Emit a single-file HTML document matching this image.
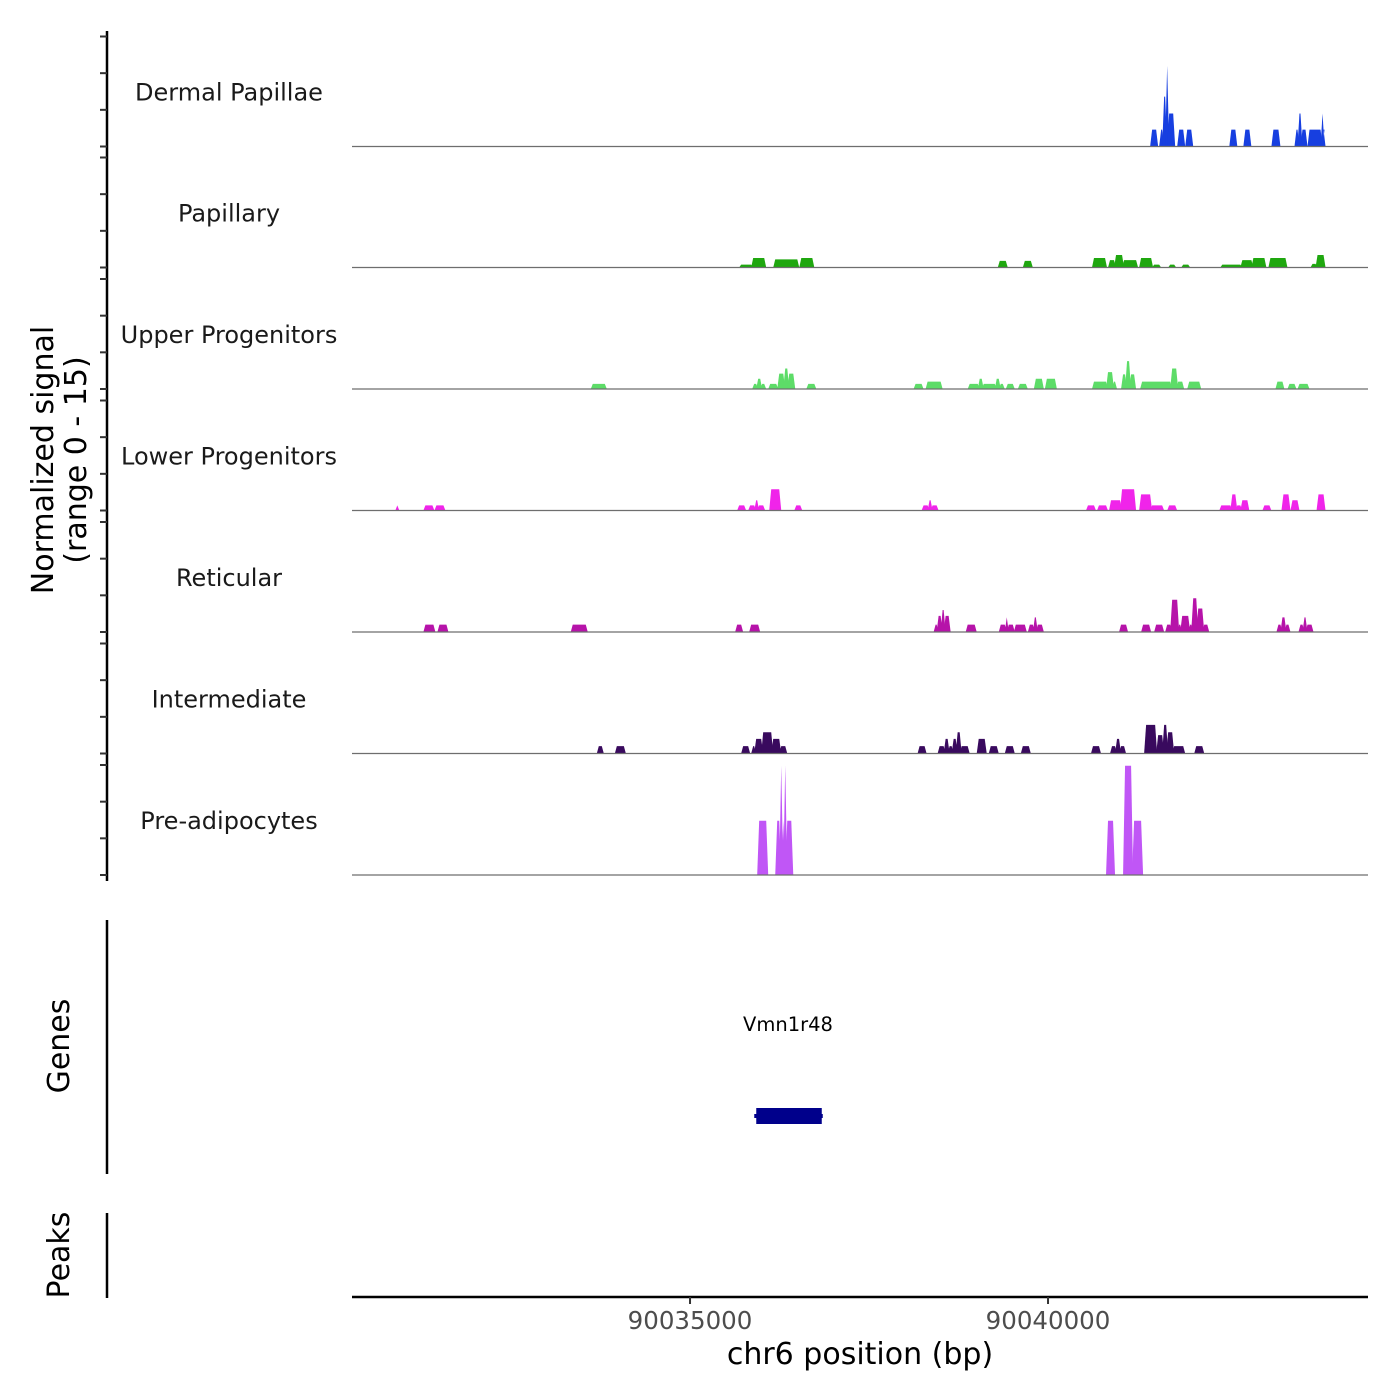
<!DOCTYPE html>
<html><head><meta charset="utf-8"><style>
html,body{margin:0;padding:0;background:#fff;}
svg{display:block;font-family:"DejaVu Sans","Liberation Sans",sans-serif;}
</style></head><body>
<svg id="chart" width="1400" height="1400" viewBox="0 0 1400 1400" xmlns="http://www.w3.org/2000/svg">
<rect width="1400" height="1400" fill="#fff"/>
<g id="tracks"></g>
<g id="yaxis"></g>
<text transform="translate(53,460) rotate(-90)" text-anchor="middle" font-size="30" fill="#000">Normalized signal</text>
<text transform="translate(86,460) rotate(-90)" text-anchor="middle" font-size="30" fill="#000">(range 0 - 15)</text>
<line x1="107" y1="920" x2="107" y2="1174" stroke="#000" stroke-width="2.5"/>
<text transform="translate(69,1046) rotate(-90)" text-anchor="middle" font-size="30" fill="#000">Genes</text>
<text x="788" y="1031" text-anchor="middle" font-size="19.5" fill="#000">Vmn1r48</text>
<g id="genes"></g>
<line x1="107" y1="1213" x2="107" y2="1298" stroke="#000" stroke-width="2.5"/>
<text transform="translate(69,1255) rotate(-90)" text-anchor="middle" font-size="30" fill="#000">Peaks</text>
<line x1="352" y1="1297" x2="1368" y2="1297" stroke="#000" stroke-width="2.5"/>
<g id="xaxis"></g>
<text x="860" y="1364" text-anchor="middle" font-size="30" fill="#000">chr6 position (bp)</text>
</svg>
<script>
// region and axis
const regionStart = 90030279;
const regionEnd = 90044469;
const xTicks = [90035000, 90040000];
const trackNames = ["Dermal Papillae","Papillary","Upper Progenitors","Lower Progenitors","Reticular","Intermediate","Pre-adipocytes"];
const trackColors = ["#173fe0","#1fa70f","#5ddc68","#f024ea","#b613a9","#390a5e","#c056f6"];
// coverage segments: [start bp, end bp, normalized signal]
const dermalPapillae = [[90041440,90041524,2.3],[90041566,90041608,2.3],[90041608,90041650,6.8],[90041650,90041678,11],[90041678,90041762,4.5],[90041818,90041902,2.3],[90041930,90042014,2.3],[90042546,90042630,2.3],[90042742,90042826,2.3],[90043134,90043232,2.3],[90043456,90043498,2.3],[90043498,90043540,4.5],[90043540,90043610,2.3],[90043638,90043820,2.3],[90043820,90043848,4.5],[90043848,90043862,2.3]];
const papillary = [[90035700,90035868,0.4],[90035868,90036050,1.3],[90036176,90036512,1.1],[90036540,90036722,1.3],[90039312,90039424,0.9],[90039662,90039774,0.9],[90040628,90040810,1.3],[90040852,90040936,1.0],[90040936,90041048,1.7],[90041048,90041244,1.0],[90041286,90041454,1.3],[90041468,90041566,0.4],[90041692,90041776,0.4],[90041874,90041972,0.4],[90042420,90042700,0.4],[90042700,90042854,1.0],[90042854,90043036,1.3],[90043092,90043330,1.3],[90043680,90043750,0.5],[90043750,90043862,1.7]];
const upperProgenitors = [[90033628,90033824,0.7],[90035882,90035938,0.7],[90035938,90035994,1.4],[90035994,90036050,0.7],[90036106,90036218,0.7],[90036232,90036316,2.1],[90036316,90036372,2.8],[90036372,90036456,2.1],[90036638,90036750,0.7],[90038136,90038248,0.7],[90038304,90038514,1.0],[90038892,90039032,0.7],[90039032,90039088,1.4],[90039088,90039270,0.7],[90039270,90039326,1.4],[90039326,90039382,0.7],[90039424,90039522,0.7],[90039592,90039704,0.7],[90039816,90039928,1.4],[90039970,90040110,1.4],[90040628,90040824,1.0],[90040824,90040908,2.3],[90040908,90040950,1.0],[90041034,90041090,2.0],[90041090,90041146,3.8],[90041146,90041216,2.0],[90041300,90041720,1.0],[90041720,90041804,2.8],[90041804,90041888,1.0],[90041958,90042126,1.0],[90043190,90043288,1.0],[90043358,90043456,0.7],[90043498,90043638,0.7]];
const lowerProgenitors = [[90030898,90030926,0.7],[90031290,90031416,0.7],[90031444,90031570,0.7],[90035672,90035770,0.7],[90035826,90035910,0.7],[90035910,90035952,1.4],[90035952,90036036,0.7],[90036120,90036260,2.9],[90036470,90036554,0.7],[90038248,90038332,0.7],[90038332,90038374,1.4],[90038374,90038458,0.7],[90040544,90040656,0.7],[90040698,90040824,0.7],[90040866,90041020,1.4],[90041020,90041216,2.9],[90041286,90041440,2.2],[90041440,90041608,0.7],[90041678,90041790,0.7],[90042406,90042560,0.7],[90042560,90042630,2.2],[90042630,90042700,0.7],[90042700,90042798,1.4],[90043008,90043106,0.7],[90043274,90043372,2.2],[90043400,90043498,1.4],[90043764,90043862,2.2]];
const reticular = [[90031290,90031430,1.0],[90031486,90031612,1.0],[90033348,90033558,1.0],[90035644,90035728,1.0],[90035840,90035966,1.0],[90038416,90038458,1.0],[90038458,90038514,2.2],[90038514,90038556,3.0],[90038556,90038626,2.2],[90038864,90038990,1.0],[90039326,90039410,1.0],[90039410,90039438,2.0],[90039438,90039522,1.0],[90039536,90039690,1.0],[90039732,90039802,1.0],[90039802,90039844,2.0],[90039844,90039928,1.0],[90041006,90041104,1.0],[90041314,90041426,1.0],[90041496,90041608,1.0],[90041650,90041720,1.0],[90041720,90041818,4.4],[90041818,90041860,1.0],[90041860,90041972,2.2],[90041972,90042014,1.0],[90042014,90042084,4.6],[90042084,90042168,3.2],[90042168,90042238,1.0],[90043204,90043260,1.0],[90043260,90043316,2.0],[90043316,90043372,1.0],[90043512,90043568,1.0],[90043568,90043610,2.0],[90043610,90043694,1.0]];
const intermediate = [[90033712,90033782,1.0],[90033964,90034090,1.0],[90035728,90035826,1.0],[90035868,90035910,1.0],[90035910,90036008,2.0],[90036008,90036148,2.9],[90036148,90036260,2.0],[90036260,90036344,1.0],[90038192,90038290,1.0],[90038472,90038556,1.0],[90038556,90038612,2.0],[90038612,90038668,1.0],[90038668,90038724,2.0],[90038724,90038780,2.9],[90038780,90038892,1.0],[90039018,90039130,2.0],[90039186,90039298,1.0],[90039410,90039522,1.0],[90039634,90039746,1.0],[90040614,90040726,1.0],[90040880,90040950,1.0],[90040950,90041006,2.0],[90041006,90041076,1.0],[90041356,90041510,3.9],[90041524,90041608,2.5],[90041608,90041664,3.9],[90041664,90041748,2.9],[90041748,90041902,1.0],[90042056,90042168,1.0]];
const preAdipocytes = [[90035952,90036078,7.4],[90036204,90036260,7.4],[90036260,90036288,14.9],[90036288,90036316,7.4],[90036316,90036344,14.9],[90036344,90036428,7.4],[90040824,90040922,7.4],[90041062,90041174,14.9],[90041188,90041314,7.4]];
const trackData = [dermalPapillae,papillary,upperProgenitors,lowerProgenitors,reticular,intermediate,preAdipocytes];
const signalTicks = [0,5,10,15];

const X0 = 352, X1 = 1368;
function xScale(bp){ return X0 + (bp - regionStart) / (regionEnd - regionStart) * (X1 - X0); }
const baselines = [146.5,267.5,389,510.5,632,753.5,875];
const PXU = 110/15;
function yScale(v, i){ return baselines[i] - v * PXU; }
const NS = "http://www.w3.org/2000/svg";
function mk(tag, attrs){ const e = document.createElementNS(NS, tag); for (const k in attrs) e.setAttribute(k, attrs[k]); return e; }

const tracks = document.getElementById('tracks');
trackData.forEach((segs, i) => {
  const g = mk('g', {});
  
  
  const lbl = mk('text', {x: 229, y: baselines[i] - 46, 'text-anchor': 'middle', 'font-size': 24, fill: '#1a1a1a'});
  lbl.textContent = trackNames[i];
  
  
  g.appendChild(lbl);
  segs.forEach(s => {
    const xa = xScale(s[0]), xb = xScale(s[1]), yb = baselines[i], yt = yScale(s[2], i);
    const p = mk('polygon', {points: `${xa-1},${yb} ${xa+1},${yt} ${xb-1},${yt} ${xb+1},${yb}`, fill: trackColors[i]});
    
    
    g.appendChild(p);
  });
  const bl = mk('line', {x1: X0, x2: X1, y1: baselines[i], y2: baselines[i], stroke: '#6e6e6e', 'stroke-width': 1.2});
  
  
  g.appendChild(bl);
  tracks.appendChild(g);
});

const yaxis = document.getElementById('yaxis');
const yl = mk('line', {x1: 107, x2: 107, y1: 31, y2: 881, stroke: '#000', 'stroke-width': 2.5});


yaxis.appendChild(yl);
baselines.forEach((b, i) => {
  signalTicks.forEach(t => {
    const y = yScale(t, i);
    const tk = mk('line', {x1: 100, x2: 107, y1: y, y2: y, stroke: '#333', 'stroke-width': 2});
    
    
    yaxis.appendChild(tk);
  });
});

const xaxis = document.getElementById('xaxis');
xTicks.forEach(t => {
  const x = xScale(t);
  const tk = mk('line', {x1: x, x2: x, y1: 1297, y2: 1304, stroke: '#333', 'stroke-width': 2});
  
  
  xaxis.appendChild(tk);
  const tl = mk('text', {x: x, y: 1329, 'text-anchor': 'middle', 'font-size': 24.5, fill: '#4d4d4d'});
  tl.textContent = t;
  
  
  xaxis.appendChild(tl);
});

// gene model
const geneStart = 90035925, geneEnd = 90036840;
const genes = document.getElementById('genes');
const gr = mk('rect', {x: xScale(geneStart), y: 1108, width: xScale(geneEnd) - xScale(geneStart), height: 16, fill: '#00008b'});


genes.appendChild(gr);
const gl = mk('line', {x1: xScale(geneStart) - 2, x2: xScale(geneEnd) + 1, y1: 1116, y2: 1116, stroke: '#00008b', 'stroke-width': 4});


genes.appendChild(gl);
</script>
</body></html>
